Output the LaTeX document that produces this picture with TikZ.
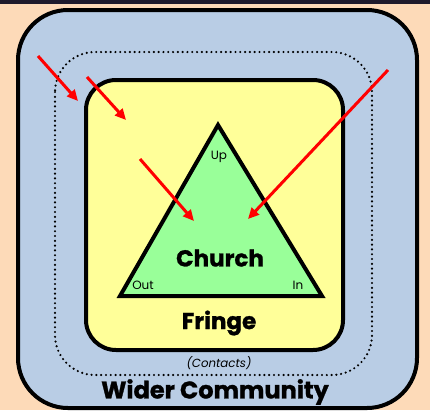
\documentclass[tikz,border=0pt]{standalone}
\usepackage{fontspec}
\setmainfont{Poppins}
\newfontfamily\heavy{Poppins}[BoldFeatures={FakeBold=1.2}]
\usetikzlibrary{arrows.meta}
\definecolor{peach}{HTML}{FDDAB8}
\definecolor{bandc}{HTML}{1E1A2C}
\definecolor{wider}{HTML}{B9CDE5}
\definecolor{fringec}{HTML}{FFFF99}
\definecolor{churchc}{HTML}{99FF99}
\definecolor{arrowc}{HTML}{FF0000}
\tikzset{
  zone/.style={draw=black, line width=4pt, rounded corners=#1},
  contactline/.style={draw=black, line width=2.4pt, dash pattern=on 0pt off 4.8pt, line cap=round, rounded corners=40pt},
  push/.style={draw=arrowc, line width=3pt, -{Triangle[length=11pt,width=10pt]}},
  small/.style={font=\fontsize{12}{14}\selectfont, inner sep=0pt},
  big/.style={font=\heavy\fontsize{23}{27}\selectfont\bfseries, inner sep=0pt},
}
\begin{document}
\begin{tikzpicture}[x=1pt,y=-1pt]
\useasboundingbox (0,0) rectangle (430,410);
\fill[peach] (0,0) rectangle (430,410);
\fill[bandc] (0,0) rectangle (430,4);
% wider community
\draw[zone=50pt, fill=wider] (18,10) rectangle (417,408);
% contacts
\draw[contactline] (55,52) rectangle (372,375);
% fringe
\draw[zone=30pt, fill=fringec] (86,80) rectangle (343,350);
% church
\draw[line width=4pt, line join=miter, fill=churchc] (218,125) -- (322,296) -- (120,296) -- cycle;
\node[small] (up) at (219,157) {Up};
\node[small] (out) at (143,285) {Out};
\node[small] (in) at (298,285) {In};
\node[big] (church) at (220,258) {Church};
\node[big] (fringe) at (219,323) {Fringe};
\node[font=\fontsize{11.8}{13}\selectfont\itshape, inner sep=0pt] (contacts) at (219,363) {(Contacts)};
\node[big, font=\heavy\fontsize{24}{28}\selectfont\bfseries] (widerc) at (215,392) {Wider Community};
% arrows
\coordinate (a1s) at (38,56);  \coordinate (a1e) at (78,101);
\coordinate (a2s) at (87,77);  \coordinate (a2e) at (126,120);
\coordinate (a3s) at (140,159); \coordinate (a3e) at (194,221);
\coordinate (a4s) at (388,70); \coordinate (a4e) at (248,219);
\draw[push] (a1s) -- (a1e);
\draw[push] (a2s) -- (a2e);
\draw[push] (a3s) -- (a3e);
\draw[push] (a4s) -- (a4e);
\end{tikzpicture}
\end{document}
